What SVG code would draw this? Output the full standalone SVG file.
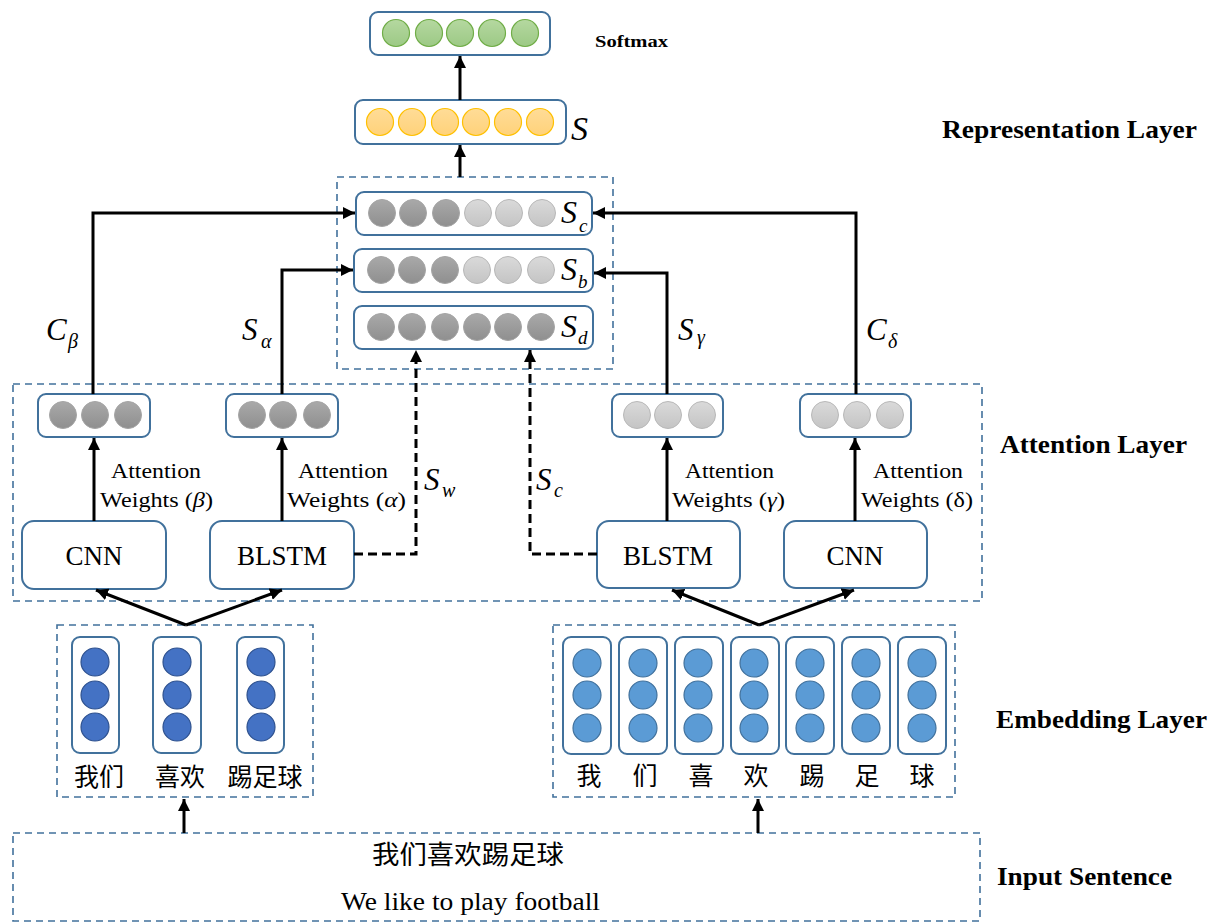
<svg xmlns="http://www.w3.org/2000/svg" width="1211" height="924" viewBox="0 0 1211 924">
  <defs>
    <linearGradient id="gGreen" x1="0" y1="0" x2="0" y2="1">
      <stop offset="0" stop-color="#b5d8a0"/>
      <stop offset="1" stop-color="#9cc985"/>
    </linearGradient>
    <linearGradient id="gOrange" x1="0" y1="0" x2="0" y2="1">
      <stop offset="0" stop-color="#ffdc97"/>
      <stop offset="1" stop-color="#ffd27a"/>
    </linearGradient>
    <linearGradient id="gDark" x1="0" y1="0" x2="0" y2="1">
      <stop offset="0" stop-color="#a9a9a9"/>
      <stop offset="1" stop-color="#8f8f8f"/>
    </linearGradient>
    <linearGradient id="gLight" x1="0" y1="0" x2="0" y2="1">
      <stop offset="0" stop-color="#dadada"/>
      <stop offset="1" stop-color="#c4c4c4"/>
    </linearGradient>
    <marker id="arr" markerUnits="userSpaceOnUse" markerWidth="14" markerHeight="12" refX="12" refY="6" orient="auto">
      <path d="M0,0 L12,6 L0,12 z" fill="#000"/>
    </marker>
    <style>
      .box { fill: #fff; stroke: #41719c; stroke-width: 2; }
      .dbox { fill: none; stroke: #41719c; stroke-width: 1.6; stroke-dasharray: 7 5; }
      .green { fill: url(#gGreen); stroke: #70ad47; stroke-width: 1.2; }
      .orange { fill: url(#gOrange); stroke: #ffc000; stroke-width: 1.2; }
      .dark { fill: url(#gDark); stroke: #a5a5a5; stroke-width: 1; }
      .light { fill: url(#gLight); stroke: #b8b8b8; stroke-width: 1; }
      .blue1 { fill: #4472c4; stroke: #2f528f; stroke-width: 1.2; }
      .blue2 { fill: #5b9bd5; stroke: #41719c; stroke-width: 1.2; }
      .conn { fill: none; stroke: #000; stroke-width: 3; marker-end: url(#arr); }
      .dash { fill: none; stroke: #000; stroke-width: 3; stroke-dasharray: 9 5; marker-end: url(#arr); }
      .serif { font-family: "Times New Roman", Times, "Liberation Serif", Tinos, serif; fill: #000; }
      .bold { font-family: "Times New Roman", Times, "Liberation Serif", Tinos, serif; font-weight: bold; fill: #000; }
      .math { font-family: "Times New Roman", Times, "Liberation Serif", Tinos, serif; font-style: italic; fill: #000; }
      .cjk { font-family: "Times New Roman", "Liberation Serif", "Noto Sans CJK SC", serif; fill: #000; }
    </style>
  </defs>

  <!-- layer titles -->
  <text class="bold" x="595" y="47" font-size="16" textLength="73" lengthAdjust="spacingAndGlyphs">Softmax</text>
  <text class="bold" x="942" y="138" font-size="25" textLength="255" lengthAdjust="spacingAndGlyphs">Representation Layer</text>
  <text class="bold" x="1000" y="453" font-size="25" textLength="187" lengthAdjust="spacingAndGlyphs">Attention Layer</text>
  <text class="bold" x="996" y="728" font-size="25" textLength="211" lengthAdjust="spacingAndGlyphs">Embedding Layer</text>
  <text class="bold" x="997" y="885" font-size="25" textLength="175" lengthAdjust="spacingAndGlyphs">Input Sentence</text>

  <!-- dashed group frames -->
  <g id="frames">
    <rect class="dbox" x="337" y="177" width="276" height="192"/>
    <rect class="dbox" x="13" y="384" width="969" height="217"/>
    <rect class="dbox" x="57" y="625" width="256" height="172"/>
    <rect class="dbox" x="553" y="625" width="402" height="172"/>
    <rect class="dbox" x="13" y="833" width="967" height="88"/>
  </g>

  <!-- softmax output -->
  <g id="softmax">
    <rect class="box" x="370" y="12" width="180" height="43" rx="8"/>
    <circle class="green" cx="396" cy="33" r="13.5"/>
    <circle class="green" cx="429" cy="33" r="13.5"/>
    <circle class="green" cx="460" cy="33" r="13.5"/>
    <circle class="green" cx="492" cy="33" r="13.5"/>
    <circle class="green" cx="525" cy="33" r="13.5"/>
  </g>

  <!-- sentence representation S -->
  <g id="rep-s">
    <rect class="box" x="355" y="100" width="211" height="44" rx="8"/>
    <circle class="orange" cx="380" cy="122" r="13.5"/>
    <circle class="orange" cx="412" cy="122" r="13.5"/>
    <circle class="orange" cx="445" cy="122" r="13.5"/>
    <circle class="orange" cx="476" cy="122" r="13.5"/>
    <circle class="orange" cx="508" cy="122" r="13.5"/>
    <circle class="orange" cx="540" cy="122" r="13.5"/>
    <text class="math" x="571" y="140" font-size="34">S</text>
  </g>

  <!-- Sc -->
  <g id="rep-sc">
    <rect class="box" x="356" y="192" width="236" height="43" rx="8"/>
    <circle class="dark" cx="382" cy="213" r="13.5"/>
    <circle class="dark" cx="413" cy="213" r="13.5"/>
    <circle class="dark" cx="446" cy="213" r="13.5"/>
    <circle class="light" cx="478" cy="213" r="13.5"/>
    <circle class="light" cx="509" cy="213" r="13.5"/>
    <circle class="light" cx="542" cy="213" r="13.5"/>
    <text class="math" x="561" y="223" font-size="32">S</text>
    <text class="math" x="579" y="232" font-size="19">c</text>
  </g>

  <!-- Sb -->
  <g id="rep-sb">
    <rect class="box" x="354" y="249" width="239" height="43" rx="8"/>
    <circle class="dark" cx="381" cy="270" r="13.5"/>
    <circle class="dark" cx="412" cy="270" r="13.5"/>
    <circle class="dark" cx="445" cy="270" r="13.5"/>
    <circle class="light" cx="477" cy="270" r="13.5"/>
    <circle class="light" cx="508" cy="270" r="13.5"/>
    <circle class="light" cx="541" cy="270" r="13.5"/>
    <text class="math" x="561" y="280" font-size="32">S</text>
    <text class="math" x="578" y="288" font-size="19">b</text>
  </g>

  <!-- Sd -->
  <g id="rep-sd">
    <rect class="box" x="354" y="306" width="239" height="43" rx="8"/>
    <circle class="dark" cx="381" cy="327" r="13.5"/>
    <circle class="dark" cx="412" cy="327" r="13.5"/>
    <circle class="dark" cx="445" cy="327" r="13.5"/>
    <circle class="dark" cx="477" cy="327" r="13.5"/>
    <circle class="dark" cx="508" cy="327" r="13.5"/>
    <circle class="dark" cx="541" cy="327" r="13.5"/>
    <text class="math" x="561" y="337" font-size="32">S</text>
    <text class="math" x="578" y="344" font-size="19">d</text>
  </g>

  <!-- attention outputs -->
  <g id="att-beta">
    <rect class="box" x="38" y="394" width="112" height="43" rx="8"/>
    <circle class="dark" cx="63" cy="415" r="13.5"/>
    <circle class="dark" cx="95" cy="415" r="13.5"/>
    <circle class="dark" cx="128" cy="415" r="13.5"/>
  </g>
  <g id="att-alpha">
    <rect class="box" x="226" y="394" width="112" height="43" rx="8"/>
    <circle class="dark" cx="252" cy="415" r="13.5"/>
    <circle class="dark" cx="283" cy="415" r="13.5"/>
    <circle class="dark" cx="317" cy="415" r="13.5"/>
  </g>
  <g id="att-gamma">
    <rect class="box" x="612" y="394" width="111" height="43" rx="8"/>
    <circle class="light" cx="637" cy="415" r="13.5"/>
    <circle class="light" cx="668" cy="415" r="13.5"/>
    <circle class="light" cx="702" cy="415" r="13.5"/>
  </g>
  <g id="att-delta">
    <rect class="box" x="800" y="394" width="111" height="43" rx="8"/>
    <circle class="light" cx="825" cy="415" r="13.5"/>
    <circle class="light" cx="857" cy="415" r="13.5"/>
    <circle class="light" cx="890" cy="415" r="13.5"/>
  </g>

  <!-- encoders -->
  <g id="cnn-left">
    <rect class="box" x="22" y="521" width="144" height="68" rx="12"/>
    <text class="serif" x="94" y="565" font-size="27" text-anchor="middle">CNN</text>
  </g>
  <g id="blstm-left">
    <rect class="box" x="210" y="521" width="144" height="68" rx="12"/>
    <text class="serif" x="282" y="565" font-size="27" text-anchor="middle">BLSTM</text>
  </g>
  <g id="blstm-right">
    <rect class="box" x="597" y="521" width="143" height="67" rx="12"/>
    <text class="serif" x="668" y="565" font-size="27" text-anchor="middle">BLSTM</text>
  </g>
  <g id="cnn-right">
    <rect class="box" x="784" y="521" width="143" height="67" rx="12"/>
    <text class="serif" x="855" y="565" font-size="27" text-anchor="middle">CNN</text>
  </g>

  <!-- word-level embeddings -->
  <g id="emb-words">
    <rect class="box" x="72" y="637" width="47" height="116" rx="8"/>
    <rect class="box" x="153" y="637" width="48" height="116" rx="8"/>
    <rect class="box" x="237" y="637" width="47" height="116" rx="8"/>
    <circle class="blue1" cx="95" cy="662" r="14"/>
    <circle class="blue1" cx="95" cy="695" r="14"/>
    <circle class="blue1" cx="95" cy="727" r="14"/>
    <circle class="blue1" cx="177" cy="662" r="14"/>
    <circle class="blue1" cx="177" cy="695" r="14"/>
    <circle class="blue1" cx="177" cy="727" r="14"/>
    <circle class="blue1" cx="261" cy="662" r="14"/>
    <circle class="blue1" cx="261" cy="695" r="14"/>
    <circle class="blue1" cx="261" cy="727" r="14"/>
    <text class="cjk" x="99" y="786" font-size="25" text-anchor="middle">我们</text>
    <text class="cjk" x="180" y="786" font-size="25" text-anchor="middle">喜欢</text>
    <text class="cjk" x="265" y="786" font-size="25" text-anchor="middle">踢足球</text>
  </g>

  <!-- character-level embeddings -->
  <g id="emb-chars">
    <rect class="box" x="563" y="637" width="48" height="117" rx="8"/>
    <rect class="box" x="619" y="637" width="48" height="117" rx="8"/>
    <rect class="box" x="675" y="637" width="48" height="117" rx="8"/>
    <rect class="box" x="731" y="637" width="48" height="117" rx="8"/>
    <rect class="box" x="786" y="637" width="48" height="117" rx="8"/>
    <rect class="box" x="842" y="637" width="48" height="117" rx="8"/>
    <rect class="box" x="898" y="637" width="48" height="117" rx="8"/>
    <g class="blue2">
      <circle cx="587" cy="663" r="14"/><circle cx="587" cy="695" r="14"/><circle cx="587" cy="728" r="14"/>
      <circle cx="643" cy="663" r="14"/><circle cx="643" cy="695" r="14"/><circle cx="643" cy="728" r="14"/>
      <circle cx="698" cy="663" r="14"/><circle cx="698" cy="695" r="14"/><circle cx="698" cy="728" r="14"/>
      <circle cx="754" cy="663" r="14"/><circle cx="754" cy="695" r="14"/><circle cx="754" cy="728" r="14"/>
      <circle cx="810" cy="663" r="14"/><circle cx="810" cy="695" r="14"/><circle cx="810" cy="728" r="14"/>
      <circle cx="866" cy="663" r="14"/><circle cx="866" cy="695" r="14"/><circle cx="866" cy="728" r="14"/>
      <circle cx="922" cy="663" r="14"/><circle cx="922" cy="695" r="14"/><circle cx="922" cy="728" r="14"/>
    </g>
    <text class="cjk" x="589" y="785" font-size="25" text-anchor="middle">我</text>
    <text class="cjk" x="645" y="785" font-size="25" text-anchor="middle">们</text>
    <text class="cjk" x="701" y="785" font-size="25" text-anchor="middle">喜</text>
    <text class="cjk" x="756" y="785" font-size="25" text-anchor="middle">欢</text>
    <text class="cjk" x="812" y="785" font-size="25" text-anchor="middle">踢</text>
    <text class="cjk" x="867" y="785" font-size="25" text-anchor="middle">足</text>
    <text class="cjk" x="922" y="785" font-size="25" text-anchor="middle">球</text>
  </g>

  <!-- input sentence -->
  <g id="input">
    <text class="cjk" x="372" y="864" font-size="26" textLength="192" lengthAdjust="spacingAndGlyphs">我们喜欢踢足球</text>
    <text class="serif" x="341" y="910" font-size="25" textLength="259" lengthAdjust="spacingAndGlyphs">We like to play football</text>
  </g>

  <!-- connectors -->
  <g id="connectors">
    <line class="conn" x1="460" y1="177" x2="460" y2="145"/>
    <line class="conn" x1="460" y1="100" x2="460" y2="56"/>
    <polyline class="conn" points="93,394 93,213 355,213"/>
    <polyline class="conn" points="282,394 282,270 353,270"/>
    <polyline class="conn" points="667,394 667,273 594,273"/>
    <polyline class="conn" points="856,394 856,213 593,213"/>
    <polyline class="dash" points="354,554 416,554 416,350"/>
    <polyline class="dash" points="597,554 530,554 530,350"/>
    <line class="conn" x1="94" y1="521" x2="94" y2="438"/>
    <line class="conn" x1="282" y1="521" x2="282" y2="438"/>
    <line class="conn" x1="667" y1="521" x2="667" y2="438"/>
    <line class="conn" x1="855" y1="521" x2="855" y2="438"/>
    <line class="conn" x1="186" y1="625" x2="96" y2="590"/>
    <line class="conn" x1="186" y1="625" x2="282" y2="590"/>
    <line class="conn" x1="759" y1="625" x2="672" y2="590"/>
    <line class="conn" x1="759" y1="625" x2="854" y2="590"/>
    <line class="conn" x1="184" y1="833" x2="184" y2="799"/>
    <line class="conn" x1="758" y1="833" x2="758" y2="799"/>
  </g>

  <!-- connector labels -->
  <g id="labels">
    <text class="math" x="46" y="340" font-size="31">C</text>
    <text class="math" x="68" y="348" font-size="20">β</text>
    <text class="math" x="242" y="340" font-size="31">S</text>
    <text class="math" x="261" y="348" font-size="20">α</text>
    <text class="math" x="678" y="340" font-size="31">S</text>
    <text class="math" x="697" y="344" font-size="20">γ</text>
    <text class="math" x="866" y="340" font-size="31">C</text>
    <text class="math" x="888" y="348" font-size="20">δ</text>
    <text class="math" x="424" y="490" font-size="31">S</text>
    <text class="math" x="442" y="497" font-size="20">w</text>
    <text class="math" x="536" y="490" font-size="31">S</text>
    <text class="math" x="554" y="497" font-size="20">c</text>

    <text class="serif" x="111" y="478" font-size="22" textLength="90" lengthAdjust="spacingAndGlyphs">Attention</text>
    <text class="serif" x="100" y="507" font-size="22" textLength="113" lengthAdjust="spacingAndGlyphs">Weights (<tspan font-style="italic">β</tspan>)</text>
    <text class="serif" x="298" y="478" font-size="22" textLength="90" lengthAdjust="spacingAndGlyphs">Attention</text>
    <text class="serif" x="287" y="507" font-size="22" textLength="119" lengthAdjust="spacingAndGlyphs">Weights (<tspan font-style="italic">α</tspan>)</text>
    <text class="serif" x="685" y="478" font-size="22" textLength="89" lengthAdjust="spacingAndGlyphs">Attention</text>
    <text class="serif" x="672" y="507" font-size="22" textLength="113" lengthAdjust="spacingAndGlyphs">Weights (<tspan font-style="italic">γ</tspan>)</text>
    <text class="serif" x="873" y="478" font-size="22" textLength="90" lengthAdjust="spacingAndGlyphs">Attention</text>
    <text class="serif" x="861" y="507" font-size="22" textLength="112" lengthAdjust="spacingAndGlyphs">Weights (δ)</text>
  </g>
</svg>
